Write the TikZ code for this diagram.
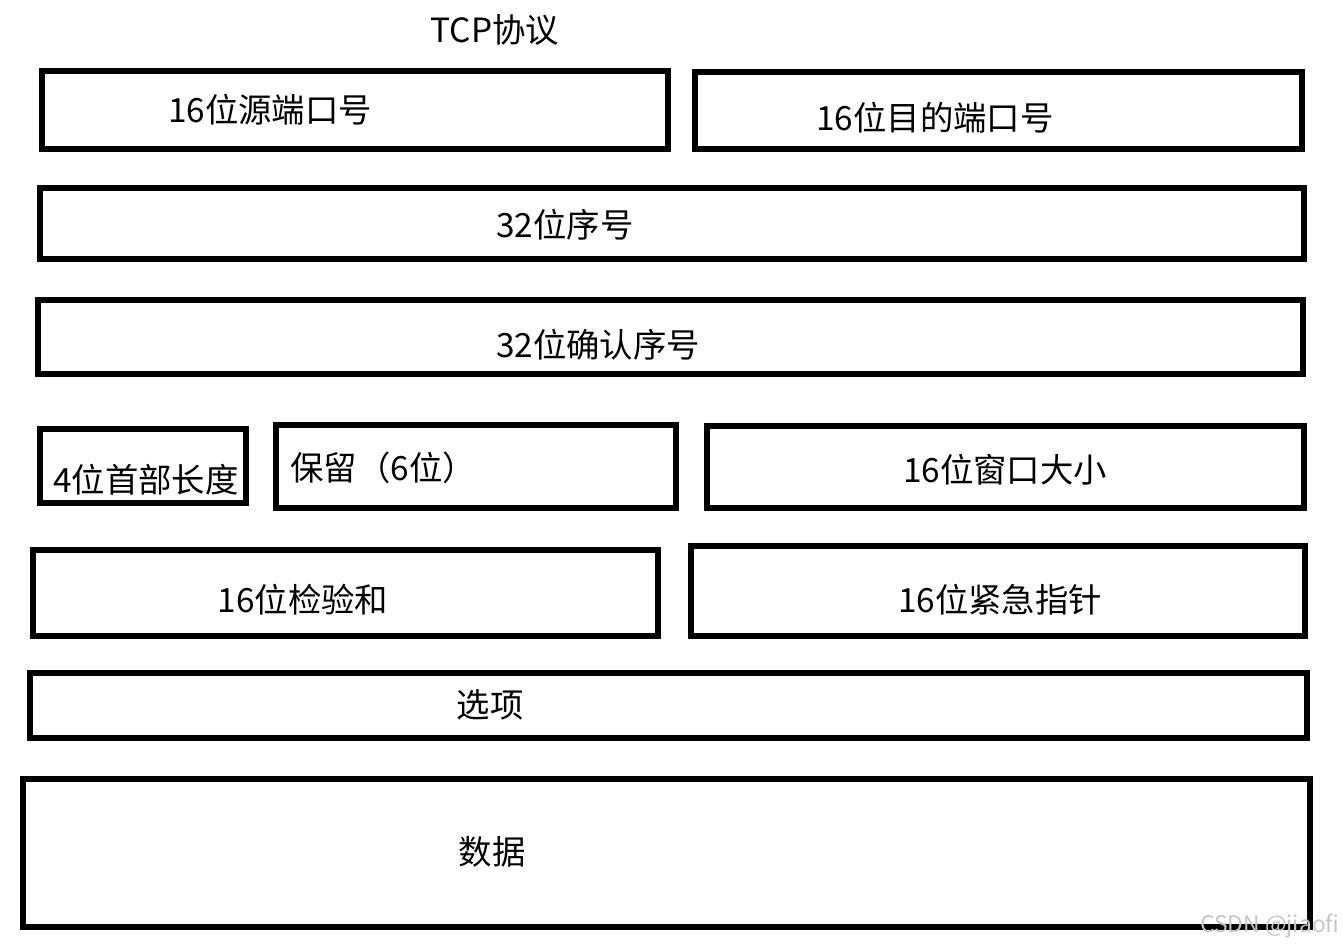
\documentclass[tikz,border=0pt]{standalone}
\usepackage{fontspec}
\setmainfont{Noto Sans CJK SC}
\usetikzlibrary{positioning}
\tikzset{
  field/.style={draw=black, line width=3.3pt},
  lbl/.style={font=\fontsize{19}{22}\selectfont, inner sep=0pt},
}
\begin{document}
\begin{tikzpicture}[x=0.02cm, y=-0.02cm]
  \useasboundingbox (0,0) rectangle (1343,949);
  % header
  \node[lbl] (title) at (495,30) {TCP协议};
  % row 1
  \draw[field] (42,71) rectangle (668,149);
  \node[lbl] (src) at (270,110) {16位源端口号};
  \draw[field] (695,72) rectangle (1302,149);
  \node[lbl] (dst) at (935,118) {16位目的端口号};
  % sequence numbers
  \draw[field] (40,188) rectangle (1304,259);
  \node[lbl] (seq) at (565,225) {32位序号};
  \draw[field] (38,300) rectangle (1303,374);
  \node[lbl] (ack) at (598,345) {32位确认序号};
  % header length, reserved, window
  \draw[field] (40,429) rectangle (246,503);
  \node[lbl] (hlen) at (146,480) {4位首部长度};
  \draw[field] (276,425) rectangle (676,508);
  \node[lbl, anchor=west] (rsv) at (290,468) {保留（6位）};
  \draw[field] (707,426) rectangle (1304,508);
  \node[lbl] (win) at (1005,470) {16位窗口大小};
  % checksum, urgent pointer
  \draw[field] (33,550) rectangle (658,636);
  \node[lbl] (chk) at (303,600) {16位检验和};
  \draw[field] (691,546) rectangle (1305,636);
  \node[lbl] (urg) at (1000,600) {16位紧急指针};
  % options and data
  \draw[field] (30,673) rectangle (1307,738);
  \node[lbl] (opt) at (490,705) {选项};
  \draw[field] (23,779) rectangle (1310,927);
  \node[lbl] (data) at (492,852) {数据};
  % watermark
  \node[font=\fontsize{13}{15}\selectfont, text=gray!45, anchor=east, inner sep=0pt] (mark) at (1340,926) {CSDN @jiaofi};
\end{tikzpicture}
\end{document}
